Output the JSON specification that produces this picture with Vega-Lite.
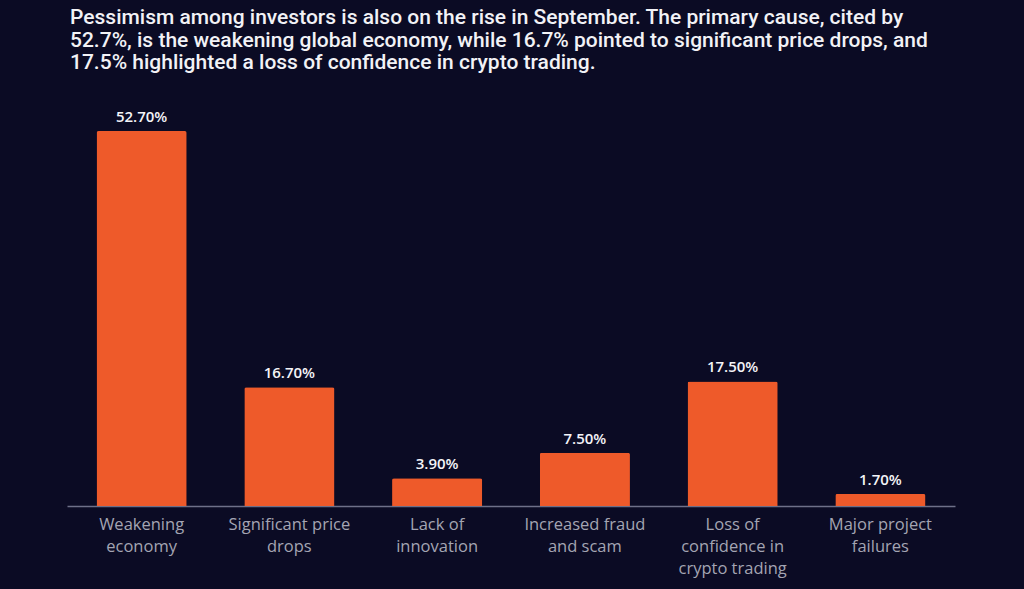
{
  "$schema": "https://vega.github.io/schema/vega-lite/v6.json",
  "width": 888,
  "height": 375,
  "autosize": {"type": "none"},
  "padding": {"left": 67, "top": 131, "right": 69, "bottom": 83},
  "background": "#0b0b24",
  "title": {
    "text": [
      "Pessimism among investors is also on the rise in September. The primary cause, cited by",
      "52.7%, is the weakening global economy, while 16.7% pointed to significant price drops, and",
      "17.5% highlighted a loss of confidence in crypto trading."
    ],
    "anchor": "start",
    "frame": "group",
    "font": "Roboto",
    "fontSize": 21,
    "fontWeight": 500,
    "color": "#f2f2f6",
    "lineHeight": 22.5,
    "offset": 37,
    "dx": 3
  },
  "data": {
    "values": [
      {"cause": "Weakening|economy", "share": 0.527},
      {"cause": "Significant price|drops", "share": 0.167},
      {"cause": "Lack of|innovation", "share": 0.039},
      {"cause": "Increased fraud|and scam", "share": 0.075},
      {"cause": "Loss of|confidence in|crypto trading", "share": 0.175},
      {"cause": "Major project|failures", "share": 0.017}
    ]
  },
  "encoding": {
    "x": {
      "field": "cause",
      "type": "nominal",
      "sort": null,
      "scale": {"paddingInner": 0.39, "paddingOuter": 0.2},
      "axis": {
        "title": null,
        "labelAngle": 0,
        "labelExpr": "split(datum.value, '|')",
        "labelFont": "Open Sans",
        "labelFontSize": 16.5,
        "labelColor": "#a4a5b3",
        "labelLineHeight": 22,
        "labelPadding": 10,
        "ticks": false,
        "domainColor": "#6e7088",
        "domainWidth": 1.5,
        "labelBaseline": "top"
      }
    },
    "y": {
      "field": "share",
      "type": "quantitative",
      "scale": {"domain": [0, 0.527], "nice": false},
      "axis": null
    }
  },
  "layer": [
    {
      "mark": {"type": "bar", "color": "#ee5a2a", "cornerRadiusTopLeft": 2, "cornerRadiusTopRight": 2}
    },
    {
      "mark": {"type": "text", "baseline": "bottom", "dy": -6, "font": "Open Sans", "fontSize": 15, "fontWeight": 600, "color": "#f4f4f8"},
      "encoding": {"text": {"field": "share", "type": "quantitative", "format": ".2%"}}
    }
  ],
  "config": {"view": {"stroke": null}}
}
